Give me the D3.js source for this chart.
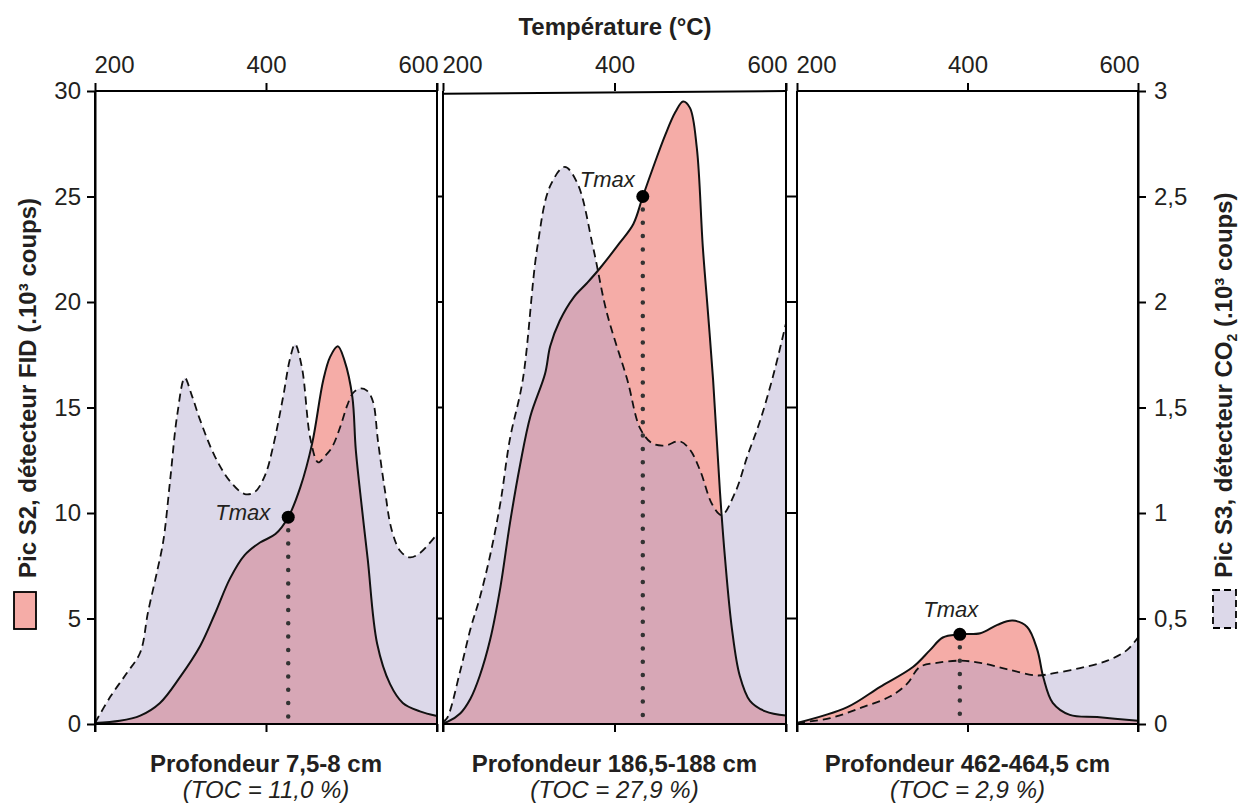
<!DOCTYPE html>
<html>
<head>
<meta charset="utf-8">
<script src="https://cdn.jsdelivr.net/npm/d3@7"></script>
<style>
  html, body { margin: 0; padding: 0; background: #fff; }
  svg { display: block; font-family: "Liberation Sans", Arial, Helvetica, sans-serif; }
</style>
</head>
<body>
<svg id="chart" width="1240" height="803"></svg>
<script>
// ---------------- DATA ----------------
const tempTicks = [200, 400, 600];
const leftTicks = [0, 5, 10, 15, 20, 25, 30];
const rightTicks = [0, 0.5, 1, 1.5, 2, 2.5, 3];
const rightTickLabels = ["0", "0,5", "1", "1,5", "2", "2,5", "3"];

const depthLabels = ["Profondeur 7,5-8 cm", "Profondeur 186,5-188 cm", "Profondeur 462-464,5 cm"];
const tocLabels = ["(TOC = 11,0 %)", "(TOC = 27,9 %)", "(TOC = 2,9 %)"];

// Panel 1 – S2 (10^3 counts, left axis) and S3 (10^3 counts, right axis)
const p1S2Temp = [200, 229, 253, 276, 299, 323, 340, 358, 375, 393, 411, 426, 440, 454, 467, 475, 484, 492, 501, 505, 512, 519, 530, 545, 560, 580, 600];
const p1S2Val  = [0.05, 0.15, 0.4, 1.0, 2.2, 3.7, 5.2, 6.9, 8.0, 8.6, 9.0, 9.8, 11.2, 13.3, 16.3, 17.4, 17.9, 17.2, 15.5, 13.0, 10.3, 7.8, 3.8, 1.9, 1.0, 0.6, 0.38];
const p1S3Temp = [200, 218, 237, 253, 262, 273, 280, 288, 296, 305, 313, 323, 340, 358, 375, 387, 399, 408, 420, 428, 434, 442, 452, 461, 469, 477, 487, 495, 502, 510, 518, 525, 531, 539, 547, 557, 568, 580, 600];
const p1S3Val  = [0.005, 0.13, 0.24, 0.34, 0.53, 0.73, 0.87, 1.16, 1.46, 1.64, 1.56, 1.44, 1.27, 1.15, 1.09, 1.10, 1.18, 1.31, 1.55, 1.73, 1.80, 1.69, 1.35, 1.24, 1.27, 1.31, 1.41, 1.51, 1.57, 1.59, 1.58, 1.53, 1.34, 1.11, 0.92, 0.82, 0.79, 0.81, 0.90];
const p1TmaxTemp = 426, p1TmaxVal = 9.8;

// Panel 2
const p2S2Temp = [200, 205, 220, 232, 243, 255, 267, 278, 290, 302, 319, 325, 336, 352, 368, 383, 406, 422, 433, 447, 459, 471, 480, 488, 496, 503, 509, 515, 523, 529, 537, 546, 558, 576, 600];
const p2S2Val  = [0.05, 0.1, 0.5, 1.2, 2.3, 4.0, 6.5, 9.5, 12.3, 14.6, 16.6, 17.9, 19.1, 20.2, 20.9, 21.6, 22.8, 23.7, 25.0, 26.6, 27.9, 29.0, 29.5, 29.2, 27.3, 22.6, 19.5, 16.3, 11.0, 7.8, 4.5, 2.3, 1.1, 0.6, 0.4];
const p2S3Temp = [200, 205, 220, 232, 243, 255, 267, 278, 293, 310, 325, 342, 357, 375, 391, 415, 430, 444, 459, 476, 488, 500, 514, 525, 541, 555, 570, 585, 600];
const p2S3Val  = [0.01, 0.03, 0.25, 0.45, 0.60, 0.80, 1.05, 1.35, 1.63, 2.26, 2.55, 2.64, 2.56, 2.26, 1.95, 1.63, 1.40, 1.33, 1.32, 1.34, 1.30, 1.20, 1.04, 0.99, 1.10, 1.27, 1.44, 1.65, 1.90];
const p2TmaxTemp = 433, p2TmaxVal = 25.0;

// Panel 3
const p3S2Temp = [200, 259, 297, 336, 356, 371, 391, 415, 435, 453, 470, 482, 489, 500, 520, 552, 600];
const p3S2Val  = [0.05, 0.8, 1.75, 2.7, 3.5, 4.1, 4.25, 4.3, 4.7, 4.9, 4.6, 3.5, 2.2, 1.0, 0.43, 0.33, 0.15];
const p3S3Temp = [200, 239, 277, 309, 329, 344, 364, 391, 415, 446, 482, 500, 532, 564, 587, 600];
const p3S3Val  = [0.005, 0.028, 0.08, 0.13, 0.19, 0.27, 0.29, 0.30, 0.29, 0.26, 0.23, 0.24, 0.265, 0.30, 0.35, 0.41];
const p3TmaxTemp = 391, p3TmaxVal = 4.25;

// ---------------- LAYOUT / STYLE ----------------
const yTop = 91, yBot = 724;
const panelRanges = [[95, 437], [443, 786], [797, 1138]];
const COL_S2 = "#f5aca7";
const COL_S3 = "#dcd8e9";
const COL_OVER = "#d7a7b6";
const INK = "#231f20";
const FS = 24;
const tmaxLabelPlacement = [
  { anchor: "end", dx: -18, dy: 3 },
  { anchor: "end", dx: -8, dy: -10 },
  { anchor: "middle", dx: -9, dy: -17 }
];

const panelsData = [
  { s2T: p1S2Temp, s2V: p1S2Val, s3T: p1S3Temp, s3V: p1S3Val, tT: p1TmaxTemp, tV: p1TmaxVal },
  { s2T: p2S2Temp, s2V: p2S2Val, s3T: p2S3Temp, s3V: p2S3Val, tT: p2TmaxTemp, tV: p2TmaxVal },
  { s2T: p3S2Temp, s2V: p3S2Val, s3T: p3S3Temp, s3V: p3S3Val, tT: p3TmaxTemp, tV: p3TmaxVal }
];

const svg = d3.select("#chart");
const yL = d3.scaleLinear().domain([0, 30]).range([yBot, yTop]);
const yR = d3.scaleLinear().domain([0, 3]).range([yBot, yTop]);
const defs = svg.append("defs");
const curve = d3.curveCatmullRom.alpha(0.5);

panelsData.forEach((p, i) => {
  const x = d3.scaleLinear().domain([200, 600]).range(panelRanges[i]);
  const s2 = p.s2T.map((t, k) => [t, p.s2V[k]]);
  const s3 = p.s3T.map((t, k) => [t, p.s3V[k]]);
  const g = svg.append("g");

  const areaS2 = d3.area().curve(curve).x(d => x(d[0])).y0(yBot).y1(d => yL(d[1]));
  const areaS3 = d3.area().curve(curve).x(d => x(d[0])).y0(yBot).y1(d => yR(d[1]));
  const lineS2 = d3.line().curve(curve).x(d => x(d[0])).y(d => yL(d[1]));
  const lineS3 = d3.line().curve(curve).x(d => x(d[0])).y(d => yR(d[1]));

  defs.append("clipPath").attr("id", "clipS3_" + i)
    .append("path").attr("d", areaS3(s3));

  g.append("path").attr("d", areaS3(s3)).attr("fill", COL_S3);
  g.append("path").attr("d", areaS2(s2)).attr("fill", COL_S2);
  g.append("path").attr("d", areaS2(s2)).attr("fill", COL_OVER).attr("clip-path", "url(#clipS3_" + i + ")");

  const last = s3[s3.length - 1];
  g.append("path")
    .attr("d", lineS3(s3) + "L" + x(last[0]) + "," + yR(0))
    .attr("fill", "none").attr("stroke", "#111").attr("stroke-width", 1.8)
    .attr("stroke-dasharray", "8,5");
  g.append("path").attr("d", lineS2(s2))
    .attr("fill", "none").attr("stroke", "#111").attr("stroke-width", 2);

  // Tmax
  const tx = x(p.tT), ty = yL(p.tV);
  g.append("line").attr("x1", tx).attr("x2", tx).attr("y1", ty + 13).attr("y2", yBot - 4)
    .attr("stroke", "#333").attr("stroke-width", 4.5).attr("stroke-linecap", "round")
    .attr("stroke-dasharray", "0,13.3");
  g.append("circle").attr("cx", tx).attr("cy", ty).attr("r", 6.5).attr("fill", "#000");
  const pl = tmaxLabelPlacement[i];
  g.append("text").attr("x", tx + pl.dx).attr("y", ty + pl.dy)
    .attr("text-anchor", pl.anchor).attr("font-style", "italic")
    .attr("font-size", 22).attr("fill", INK).text("Tmax");

  // top axis
  const top = svg.append("g").attr("transform", `translate(0,${yTop})`)
    .call(d3.axisTop(x).tickValues(tempTicks).tickSize(8).tickSizeOuter(0).tickPadding(10));
  top.select(".domain").remove();
  top.selectAll(".tick line").attr("stroke", "#000").attr("stroke-width", 2);
  top.selectAll(".tick text").attr("font-size", FS).attr("fill", INK)
    .attr("font-family", "Liberation Sans, Arial, sans-serif")
    .attr("text-anchor", (d, k) => k === 0 ? "start" : (k === 2 ? "end" : "middle"))
    .attr("dx", (d, k) => k === 0 ? -1 : (k === 2 ? 1 : 0));

  // bottom axis
  const bot = svg.append("g").attr("transform", `translate(0,${yBot})`)
    .call(d3.axisBottom(x).tickValues(tempTicks).tickSize(8).tickSizeOuter(0).tickFormat(""));
  bot.select(".domain").remove();
  bot.selectAll(".tick line").attr("stroke", "#000").attr("stroke-width", 2);

  // frame
  const [x0, x1] = panelRanges[i];
  const fr = svg.append("g").attr("stroke", "#000").attr("stroke-width", 2).attr("fill", "none");
  fr.append("line").attr("x1", x0).attr("x2", x1).attr("y1", yBot).attr("y2", yBot);
  if (i === 1) {
    fr.append("line").attr("x1", x0).attr("x2", x1).attr("y1", yL(29.87)).attr("y2", yL(30));
  } else {
    fr.append("line").attr("x1", x0).attr("x2", x1).attr("y1", yTop).attr("y2", yTop);
  }
  fr.append("line").attr("x1", x0).attr("x2", x0).attr("y1", yTop).attr("y2", yBot + 8);
  fr.append("line").attr("x1", x1).attr("x2", x1).attr("y1", yTop - (i < 2 ? 8 : 0)).attr("y2", yBot + 8);

  // bottom labels
  const cx = (x0 + x1) / 2;
  svg.append("text").attr("x", cx).attr("y", yBot + 48).attr("text-anchor", "middle")
    .attr("font-weight", "bold").attr("font-size", FS).attr("fill", INK).text(depthLabels[i]);
  svg.append("text").attr("x", cx).attr("y", yBot + 74).attr("text-anchor", "middle")
    .attr("font-style", "italic").attr("font-size", FS).attr("fill", INK).text(tocLabels[i]);
});

// gap tick marks between panels
const gaps = [[panelRanges[0][1], panelRanges[1][0]], [panelRanges[1][1], panelRanges[2][0]]];
gaps.forEach(([a, b]) => {
  svg.append("g").selectAll("line").data(leftTicks.slice(1, -1)).join("line")
    .attr("x1", a).attr("x2", b).attr("y1", d => yL(d)).attr("y2", d => yL(d))
    .attr("stroke", "#000").attr("stroke-width", 2);
});

// left axis
const la = svg.append("g").attr("transform", `translate(${panelRanges[0][0]},0)`)
  .call(d3.axisLeft(yL).tickValues(leftTicks).tickSize(8).tickSizeOuter(0).tickPadding(6));
la.select(".domain").attr("stroke", "#000").attr("stroke-width", 2);
la.selectAll(".tick line").attr("stroke", "#000").attr("stroke-width", 2);
la.selectAll(".tick text").attr("font-size", FS).attr("fill", INK)
  .attr("font-family", "Liberation Sans, Arial, sans-serif");

// right axis
const ra = svg.append("g").attr("transform", `translate(${panelRanges[2][1]},0)`)
  .call(d3.axisRight(yR).tickValues(rightTicks).tickSize(8).tickSizeOuter(0).tickPadding(8)
    .tickFormat((d, k) => rightTickLabels[k]));
ra.select(".domain").attr("stroke", "#000").attr("stroke-width", 2);
ra.selectAll(".tick line").attr("stroke", "#000").attr("stroke-width", 2);
ra.selectAll(".tick text").attr("font-size", FS).attr("fill", INK)
  .attr("font-family", "Liberation Sans, Arial, sans-serif");

// title
svg.append("text").attr("x", 615).attr("y", 35).attr("text-anchor", "middle")
  .attr("font-weight", "bold").attr("font-size", FS).attr("fill", INK).text("Température (°C)");

// left axis title + legend swatch
svg.append("text").attr("transform", "translate(36,388) rotate(-90)").attr("text-anchor", "middle")
  .attr("font-weight", "bold").attr("font-size", FS).attr("fill", INK)
  .text("Pic S2, détecteur FID (.10³ coups)");
svg.append("rect").attr("x", 14).attr("y", 592).attr("width", 22).attr("height", 37)
  .attr("fill", COL_S2).attr("stroke", "#000").attr("stroke-width", 1.8);

// right axis title + legend swatch
const rt = svg.append("text").attr("transform", "translate(1232,385) rotate(-90)").attr("text-anchor", "middle")
  .attr("font-weight", "bold").attr("font-size", FS).attr("fill", INK);
rt.append("tspan").text("Pic S3, détecteur CO");
rt.append("tspan").attr("font-size", 14).attr("dy", 5).text("2");
rt.append("tspan").attr("dy", -5).text(" (.10³ coups)");
svg.append("rect").attr("x", 1213).attr("y", 590).attr("width", 23).attr("height", 38)
  .attr("fill", COL_S3).attr("stroke", "#000").attr("stroke-width", 1.8).attr("stroke-dasharray", "7,4");
</script>
</body>
</html>
